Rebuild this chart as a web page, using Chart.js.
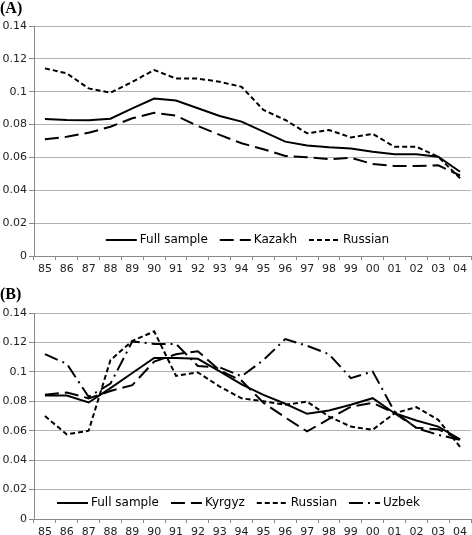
<!DOCTYPE html>
<html><head><meta charset="utf-8">
<script src="https://cdn.jsdelivr.net/npm/chart.js@4/dist/chart.umd.min.js"></script>
<style>
html,body{margin:0;padding:0;background:#fff;width:472px;height:535px;overflow:hidden}
.box{position:absolute;left:0;width:472px}
#a{top:0;height:275px}
#b{top:275px;height:260px}
</style></head><body>
<div class="box" id="a"><canvas id="ca"></canvas></div>
<div class="box" id="b"><canvas id="cb"></canvas></div>
<script>
const years = ['85','86','87','88','89','90','91','92','93','94','95','96','97','98','99','00','01','02','03','04'];
const yTickLabels = ['0','0.02','0.04','0.06','0.08','0.1','0.12','0.14'];

// Panel A
const aFull    = [0.0834,0.0828,0.0826,0.0836,0.0899,0.0958,0.0946,0.0899,0.0852,0.0818,0.0757,0.0696,0.0672,0.0662,0.0655,0.0635,0.0619,0.0619,0.0604,0.0513];
const aKazakh  = [0.0710,0.0726,0.0750,0.0787,0.0838,0.0872,0.0854,0.0791,0.0737,0.0686,0.0650,0.0609,0.0601,0.0589,0.0598,0.0560,0.0548,0.0548,0.0552,0.0490];
const aRussian = [0.1142,0.1112,0.1020,0.0994,0.1060,0.1132,0.1080,0.1080,0.1060,0.1030,0.0889,0.0828,0.0747,0.0767,0.0722,0.0743,0.0665,0.0665,0.0604,0.0473];

// Panel B
const bFull    = [0.0839,0.0839,0.0792,0.0890,0.0992,0.1094,0.1094,0.1089,0.1003,0.0915,0.0844,0.0783,0.0715,0.0737,0.0776,0.0821,0.0719,0.0669,0.0628,0.0542];
const bKyrgyz  = [0.0844,0.0860,0.0820,0.0870,0.0910,0.1070,0.1120,0.1140,0.1010,0.0940,0.0790,0.0690,0.0595,0.0680,0.0762,0.0790,0.0720,0.0620,0.0610,0.0540];
const bRussian = [0.0700,0.0575,0.0600,0.1080,0.1210,0.1275,0.0973,0.0996,0.0900,0.0820,0.0800,0.0776,0.0798,0.0696,0.0628,0.0606,0.0719,0.0760,0.0674,0.0490];
const bUzbek   = [0.1120,0.1055,0.0830,0.0920,0.1207,0.1190,0.1190,0.1040,0.1030,0.0970,0.1080,0.1223,0.1177,0.1120,0.0957,0.1003,0.0730,0.0617,0.0572,0.0538];

const FONT = '"DejaVu Sans", Verdana, sans-serif';

const insideLegend = {
  id: 'insideLegend',
  afterDatasetsDraw(chart, args, opts) {
    const ctx = chart.ctx, ca = chart.chartArea;
    ctx.save();
    ctx.font = '12px ' + FONT;
    const items = chart.data.datasets.map(ds => ({ds, w: ctx.measureText(ds.label).width}));
    const lineW = 31, gapT = 3, gapI = 12;
    const total = items.reduce((s, i) => s + lineW + gapT + i.w, 0) + gapI * (items.length - 1);
    let x = (ca.left + ca.right) / 2 - total / 2 + (opts.dx || 0);
    const y = ca.bottom - opts.offset;
    items.forEach(it => {
      ctx.beginPath();
      ctx.setLineDash(it.ds.borderDash || []);
      ctx.lineWidth = it.ds.borderWidth;
      ctx.strokeStyle = it.ds.borderColor;
      ctx.moveTo(x, y); ctx.lineTo(x + lineW, y); ctx.stroke();
      x += lineW + gapT;
      ctx.setLineDash([]);
      ctx.fillStyle = '#000';
      ctx.textBaseline = 'middle';
      ctx.textAlign = 'left';
      ctx.fillText(it.ds.label, x, y);
      x += it.w + gapI;
    });
    ctx.restore();
  }
};

function ds(label, data, dash) {
  return {label, data, borderColor: '#000', backgroundColor: '#000', borderWidth: 2,
    borderDash: dash, pointRadius: 0, pointHoverRadius: 0, tension: 0, fill: false};
}

function makeChart(id, title, titlePad, datasets, xHeight, legendDx) {
  return new Chart(document.getElementById(id), {
    type: 'line',
    data: {labels: years, datasets},
    plugins: [insideLegend],
    options: {
      responsive: true, maintainAspectRatio: false, animation: false, devicePixelRatio: 1,
      layout: {padding: {left: 0, right: 1, top: 0, bottom: 0}},
      plugins: {
        legend: {display: false},
        tooltip: {enabled: false},
        title: {display: true, text: title, align: 'start', color: '#000',
          font: {family: '"Liberation Serif", "Times New Roman", serif', size: 16, weight: 'bold', lineHeight: 1.125},
          padding: titlePad},
        insideLegend: {offset: 16, dx: legendDx}
      },
      scales: {
        x: {
          offset: true,
          grid: {display: true, drawOnChartArea: false, drawTicks: true, tickLength: 4, offset: true, tickColor: '#888'},
          border: {display: true, color: '#888', width: 1},
          ticks: {font: {family: FONT, size: 11}, color: '#222', padding: 3, maxRotation: 0, autoSkip: false},
          afterFit: s => { s.height = xHeight; }
        },
        y: {
          min: 0, max: 0.14,
          grid: {color: '#b2b2b2', tickLength: 5, tickColor: '#888'},
          border: {display: true, color: '#888', width: 1},
          ticks: {stepSize: 0.02, font: {family: FONT, size: 11}, color: '#222', padding: 2,
            callback: (v, i) => yTickLabels[i]},
          afterFit: s => { s.width = 34; }
        }
      }
    }
  });
}

makeChart('ca', '(A)', {top: 0, bottom: 8}, [
  ds('Full sample', aFull, []),
  ds('Kazakh', aKazakh, [14, 6]),
  ds('Russian', aRussian, [5, 3])
], 19, -5);

makeChart('cb', '(B)', {top: 11, bottom: 9}, [
  ds('Full sample', bFull, []),
  ds('Kyrgyz', bKyrgyz, [14, 6]),
  ds('Russian', bRussian, [5, 3]),
  ds('Uzbek', bUzbek, [14, 5, 2, 5])
], 16, -14);
</script>
</body></html>
